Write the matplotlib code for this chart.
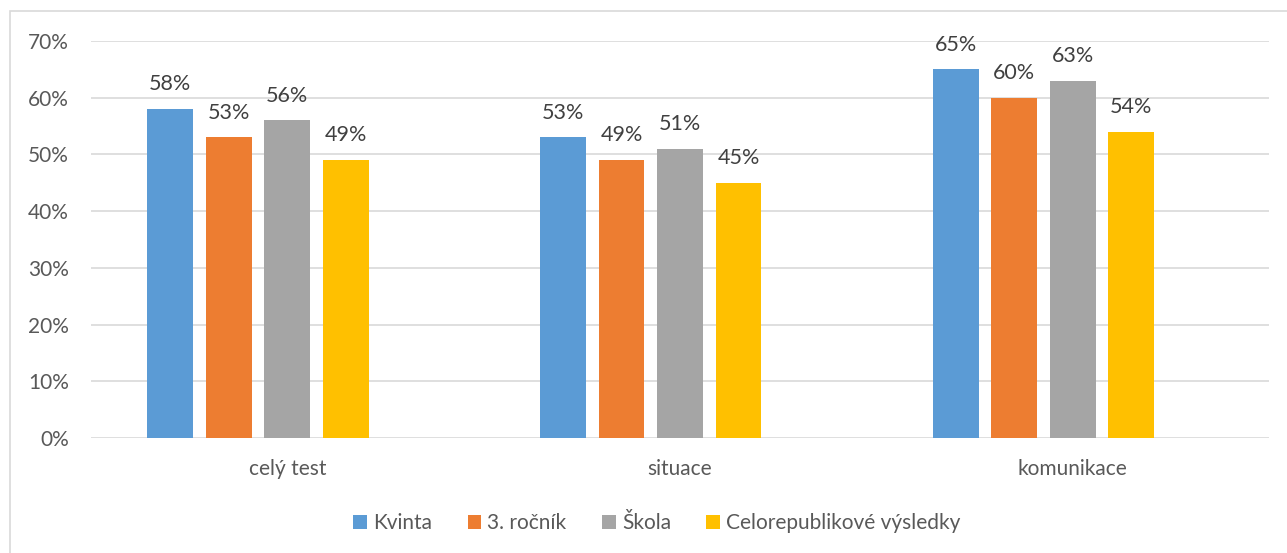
import matplotlib.pyplot as plt
from matplotlib.patches import Rectangle

categories = ['celý test', 'situace', 'komunikace']
series = ['Kvinta', '3. ročník', 'Škola', 'Celorepublikové výsledky']
values = {
    'Kvinta': [58, 53, 65],
    '3. ročník': [53, 49, 60],
    'Škola': [56, 51, 63],
    'Celorepublikové výsledky': [49, 45, 54],
}
colors = ['#5b9bd5', '#ed7d31', '#a5a5a5', '#ffc000']

plt.rcParams['font.family'] = ['Lato', 'DejaVu Sans']
txt = '#595959'

fig = plt.figure(figsize=(12.87, 5.53), dpi=100)
ax = fig.add_axes([91 / 1287, 115 / 553, 1178 / 1287, 397 / 553])

# outer frame of the chart area
fig.patches.append(Rectangle((10 / 1287, -0.1), 1.2, (553 - 11) / 553 + 0.1,
                             transform=fig.transFigure, fill=False,
                             edgecolor='#d9d9d9', linewidth=1.2))

step = 0.149
width = 0.117
x = range(len(categories))
for i, (name, c) in enumerate(zip(series, colors)):
    offs = (i - 2) * step
    xs = [k + offs for k in x]
    bars = ax.bar(xs, values[name], width=width, color=c, label=name, zorder=3)
    for b, v in zip(bars, values[name]):
        ax.text(b.get_x() + b.get_width() / 2, v + 2.6, f'{v}%',
                ha='center', va='bottom', fontsize=15.5, color='#404040')

ax.set_xlim(-0.5, 2.5)
ax.set_ylim(0, 70)
ax.set_yticks(range(0, 71, 10))
ax.set_yticklabels([f'{t}%' for t in range(0, 71, 10)], fontsize=15, color=txt)
ax.set_xticks(list(x))
ax.set_xticklabels(categories, fontsize=15, color=txt)
ax.tick_params(axis='both', length=0)
ax.tick_params(axis='y', pad=16)
ax.tick_params(axis='x', pad=15)
ax.grid(axis='y', color='#d9d9d9', linewidth=1.2, zorder=0)
for s in ax.spines.values():
    s.set_visible(False)

leg = fig.legend(loc='center', bbox_to_anchor=(657 / 1287, 30 / 553), ncol=4,
                 frameon=False, fontsize=15, handlelength=0.65, handleheight=0.65,
                 handletextpad=0.3, columnspacing=1.7)
for t in leg.get_texts():
    t.set_color(txt)

fig.savefig('out.png', dpi=100)
